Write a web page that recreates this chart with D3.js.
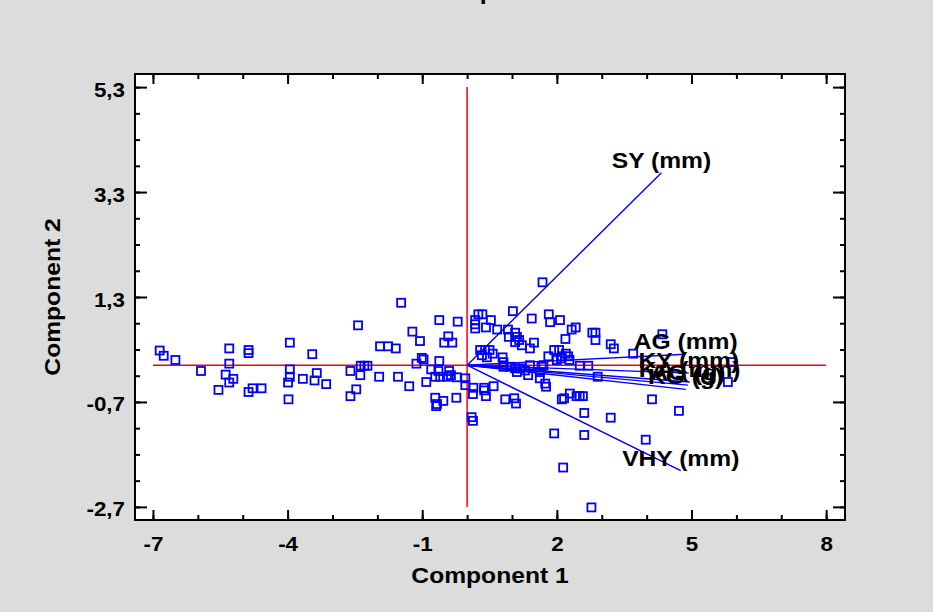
<!DOCTYPE html>
<html>
<head>
<meta charset="utf-8">
<script src="https://cdn.jsdelivr.net/npm/d3@7"></script>
<style>
  body { margin: 0; background: #dcdcdc; }
  svg { display: block; }
  text { font-family: "Liberation Sans", Arial, sans-serif; font-weight: bold; fill: #000; }
</style>
</head>
<body>
<svg></svg>
<script>
const width = 933;
const height = 612;

// frame of the plot area
const plotLeft = 135, plotRight = 845, plotTop = 74, plotBottom = 520;
const stretch = 1.12; // text in the picture is a bit wider than Arial

// component scores (x = Component 1, y = Component 2)
const scoreX = [
  -6.85, -6.76, -6.50, -5.93, -5.30, -5.30, -5.38, -5.21, -5.30, -5.54,
  -4.87, -4.87, -4.87, -4.78, -4.58, -3.95, -3.95, -3.95, -3.99, -3.98,
  -3.66, -3.45, -3.35, -3.40, -3.14,
  -1.47, -2.43, -1.22, -1.05, -0.62, -0.21, -0.42, -0.51, -0.33, -1.94,
  -1.76, -1.59, -1.01, -0.97, -1.13, -0.62, -2.37, -2.29, -2.22, -2.60,
  -2.38, -1.96, -1.54, -1.29, -0.91, -0.80, -0.64, -0.40, -0.60, -0.45,
  -0.71, -0.36, -0.23, -0.04, -0.04, -2.47, -2.60, -0.71, -0.69, -0.53,
  -0.24, -0.67,
  1.68, 1.02, 1.44, 1.82, 1.85, 2.07, 0.25, 0.34, 0.18, 0.18,
  0.18, 0.42, 0.53, 0.67, 0.91, 0.93, 1.07, 1.11, 1.16, 1.07,
  1.22, 1.40, 1.49, 2.33, 2.42, 2.79, 2.86, 2.86, 3.20, 3.27,
  2.19, 1.94, 2.05, 2.11, 2.20, 2.25, 2.28, 2.09, 2.00, 1.81,
  0.29, 0.40, 0.50, 0.33, 0.44, 0.57, 0.79, 0.81, 1.40, 1.66,
  1.70, 2.51, 2.70, 0.81, 0.96, 1.07, 1.18, 1.29, 1.36, 1.11,
  1.62, 1.62, 1.74, 1.76, 2.91, 0.14, 0.38, 0.38, 0.59, 0.13,
  0.42, 0.85, 1.05, 1.09, 2.11, 2.16, 2.29, 2.44, 2.51, 2.58,
  0.10, 0.13, 2.61, 3.20, 1.94, 2.61, 2.14, 2.77,
  4.12, 4.72, 3.98, 4.35, 3.70, 5.89, 5.81
];
const scoreY = [
  0.28, 0.18, 0.10, -0.11, 0.32, 0.03, -0.18, -0.26, -0.33, -0.47,
  0.29, 0.23, -0.51, -0.44, -0.44, 0.43, -0.08, -0.22, -0.33, -0.65,
  -0.26, 0.21, -0.15, -0.29, -0.36,
  1.19, 0.76, 0.64, 0.46, 0.86, 0.83, 0.55, 0.43, 0.43, 0.36,
  0.36, 0.32, 0.14, 0.11, 0.03, 0.08, -0.01, -0.01, -0.01, -0.11,
  -0.19, -0.22, -0.22, -0.40, -0.32, -0.08, -0.11, -0.11, -0.22, -0.22,
  -0.22, -0.19, -0.23, -0.25, -0.38, -0.46, -0.59, -0.62, -0.78, -0.68,
  -0.62, -0.74,
  1.58, 1.03, 0.89, 0.97, 0.82, 0.86, 0.97, 0.97, 0.86, 0.78,
  0.70, 0.72, 0.86, 0.68, 0.68, 0.54, 0.62, 0.54, 0.48, 0.44,
  0.38, 0.32, 0.43, 0.68, 0.72, 0.62, 0.62, 0.48, 0.40, 0.32,
  0.50, 0.29, 0.29, 0.17, 0.22, 0.17, 0.10, 0.13, 0.10, 0.17,
  0.29, 0.29, 0.29, 0.19, 0.15, 0.22, 0.15, 0.06, 0.00, -0.03,
  0.00, -0.01, -0.01, -0.03, -0.03, -0.06, -0.06, -0.10, -0.19, -0.13,
  -0.13, -0.25, -0.35, -0.41, -0.22, -0.43, -0.43, -0.48, -0.40, -0.55,
  -0.59, -0.65, -0.63, -0.73, -0.65, -0.63, -0.54, -0.59, -0.59, -0.59,
  -0.99, -1.06, -0.91, -1.00, -1.30, -1.33, -1.95, -2.71,
  -0.65, -0.87, -1.42, 0.59, 0.22, 0.06, -0.32
];

// variable loadings (biplot vectors)
const varNames = ["SY (mm)", "AG (mm)", "KY (mm)", "KA (mm)", "AG (g)", "KG (g)", "VHY (mm)"];
const varX = [4.33, 4.87, 4.94, 4.96, 4.92, 4.87, 4.76];
const varY = [3.67, 0.21, -0.15, -0.32, -0.38, -0.46, -2.01];

// axes
const xTicks = [-7, -4, -1, 2, 5, 8];
const xMinor = d3.range(-7, 8.01, 1);
const yTicks = [-2.7, -0.7, 1.3, 3.3, 5.3];
const yMinor = d3.range(-2.7, 5.31, 0.5);
const xTitle = "Component 1";
const yTitle = "Component 2";
const title = "Biplot";

const svg = d3.select("svg").attr("width", width).attr("height", height);

const x = d3.scaleLinear().domain([-7.4, 8.42]).range([plotLeft, plotRight]);
const y = d3.scaleLinear().domain([-2.95, 5.55]).range([plotBottom, plotTop]);

// plain hyphen for negatives and a decimal comma, as in the picture
const intFmt = (d) => d3.format("d")(d).replace("\u2212", "-");
const commaFmt = (d) => d3.format(".1f")(d).replace("\u2212", "-").replace(".", ",");

svg.append("rect")
  .attr("x", plotLeft).attr("y", plotTop)
  .attr("width", plotRight - plotLeft).attr("height", plotBottom - plotTop)
  .attr("fill", "#fff");

// title, mostly cut off at the top edge
svg.append("text")
  .attr("transform", `translate(${(plotLeft + plotRight) / 2}, -1.5) scale(${stretch},1)`)
  .attr("text-anchor", "middle")
  .style("font-size", "22px")
  .text(title);

// reference lines through the origin
svg.append("line")
  .attr("x1", x(xTicks[0])).attr("x2", x(xTicks[xTicks.length - 1]))
  .attr("y1", y(0)).attr("y2", y(0))
  .attr("stroke", "#ff0000").attr("stroke-width", 1.5);
svg.append("line")
  .attr("x1", x(0)).attr("x2", x(0))
  .attr("y1", y(yTicks[0])).attr("y2", y(yTicks[yTicks.length - 1]))
  .attr("stroke", "#ff0000").attr("stroke-width", 1.5);

// vectors
svg.append("g")
  .selectAll("line")
  .data(varNames)
  .enter()
  .append("line")
  .attr("x1", x(0)).attr("y1", y(0))
  .attr("x2", (d, i) => x(varX[i]))
  .attr("y2", (d, i) => y(varY[i]))
  .attr("stroke", "#0000ff").attr("stroke-width", 1.4);

// observations
svg.append("g")
  .selectAll("rect")
  .data(scoreX)
  .enter()
  .append("rect")
  .attr("x", (d) => x(d) - 4)
  .attr("y", (d, i) => y(scoreY[i]) - 4)
  .attr("width", 8).attr("height", 8)
  .attr("fill", "none")
  .attr("stroke", "#0000ff").attr("stroke-width", 1.8);

// vector labels
svg.append("g")
  .selectAll("text")
  .data(varNames)
  .enter()
  .append("text")
  .attr("transform", (d, i) => `translate(${x(varX[i])}, ${y(varY[i]) - 5}) scale(${stretch},1)`)
  .attr("text-anchor", "middle")
  .style("font-size", "22px")
  .text((d) => d);

// axes with inward ticks on all four sides
const addAxis = (axis, tx, ty) => {
  const g = svg.append("g").attr("transform", `translate(${tx},${ty})`).call(axis);
  g.select(".domain").remove();
  g.selectAll("line").attr("stroke", "#000").attr("stroke-width", 2);
  return g;
};

const xAxis = addAxis(
  d3.axisBottom(x).tickValues(xTicks).tickSize(-10).tickPadding(17).tickFormat(intFmt),
  0, plotBottom
);
xAxis.selectAll("text")
  .attr("transform", `scale(${stretch},1)`)
  .style("font-size", "20px")
  .style("font-family", '"Liberation Sans", Arial, sans-serif');
addAxis(d3.axisBottom(x).tickValues(xMinor).tickSize(-5).tickFormat(""), 0, plotBottom);
addAxis(d3.axisTop(x).tickValues(xTicks).tickSize(-10).tickFormat(""), 0, plotTop);
addAxis(d3.axisTop(x).tickValues(xMinor).tickSize(-5).tickFormat(""), 0, plotTop);

const yAxis = addAxis(
  d3.axisLeft(y).tickValues(yTicks).tickSize(-12).tickPadding(10).tickFormat(commaFmt),
  plotLeft, 0
);
yAxis.selectAll("text")
  .attr("x", -10 / stretch)
  .attr("dy", "0.8em")
  .attr("y", -7)
  .attr("transform", `scale(${stretch},1)`)
  .style("font-size", "20px")
  .style("font-family", '"Liberation Sans", Arial, sans-serif');
addAxis(d3.axisLeft(y).tickValues(yMinor).tickSize(-5).tickFormat(""), plotLeft, 0);
addAxis(d3.axisRight(y).tickValues(yTicks).tickSize(-12).tickFormat(""), plotRight, 0);
addAxis(d3.axisRight(y).tickValues(yMinor).tickSize(-5).tickFormat(""), plotRight, 0);

// frame
svg.append("rect")
  .attr("x", plotLeft).attr("y", plotTop)
  .attr("width", plotRight - plotLeft).attr("height", plotBottom - plotTop)
  .attr("fill", "none").attr("stroke", "#000").attr("stroke-width", 2);

// axis titles
svg.append("text")
  .attr("transform", `translate(${(plotLeft + plotRight) / 2}, 583) scale(${stretch},1)`)
  .attr("text-anchor", "middle")
  .style("font-size", "22px")
  .text(xTitle);
svg.append("text")
  .attr("transform", `translate(60, ${(plotTop + plotBottom) / 2}) rotate(-90) scale(${stretch},1)`)
  .attr("text-anchor", "middle")
  .style("font-size", "22px")
  .text(yTitle);
</script>
</body>
</html>
